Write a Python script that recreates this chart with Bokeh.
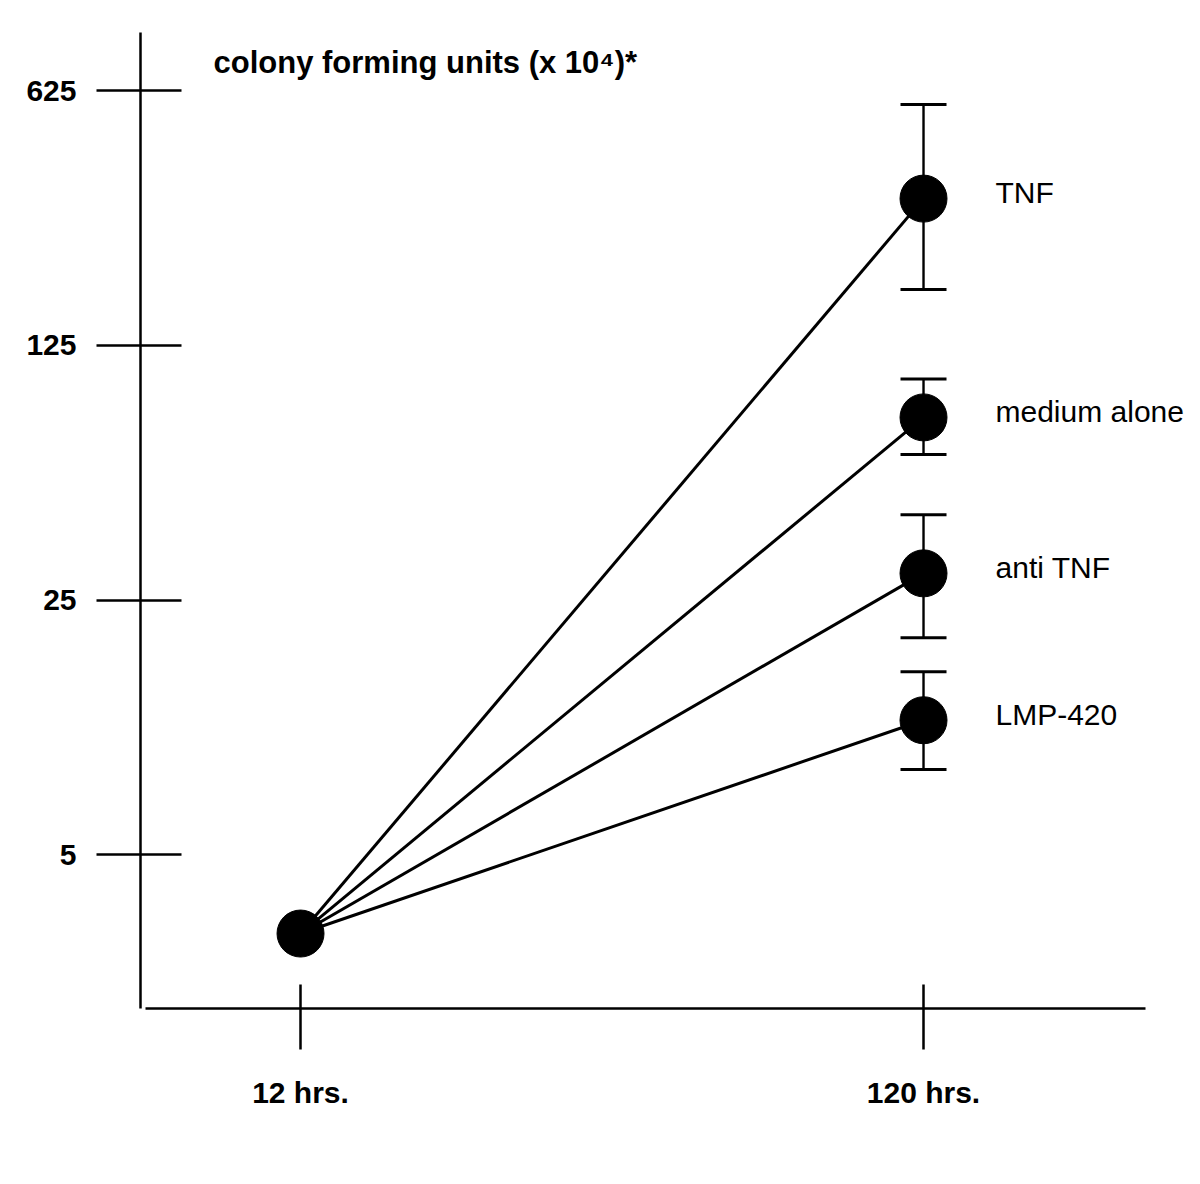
from bokeh.plotting import figure
from bokeh.models import ColumnDataSource, Range1d, FixedTicker, Whisker, TeeHead, Label
from bokeh.embed import file_html
from bokeh.resources import INLINE
from bokeh.core.properties import value

# ---- data ----
times = [12, 120]
time_labels = ["12 hrs.", "120 hrs."]
start_cfu = 3.04
groups = ["TNF", "medium alone", "anti TNF", "LMP-420"]
cfu_120 = [316, 79.3, 29.6, 11.7]
err_upper = [573, 101, 42.9, 15.9]
err_lower = [178, 62.7, 19.7, 8.57]
y_ticks = [5, 25, 125, 625]
y_title = "colony forming units (x 10\u2074)*"

FONT = "Liberation Sans"

p = figure(width=1192, height=1168, output_backend="svg", toolbar_location=None,
           y_axis_type="log",
           x_range=Range1d(-15.74, 166.63), y_range=Range1d(1.893, 902.7),
           min_border_left=140, min_border_right=0, min_border_top=32, min_border_bottom=160)
p.outline_line_color = None
p.grid.visible = False
p.background_fill_color = "white"
p.border_fill_color = "white"

# lines from start point to each 120 h value
xs = [[times[0], times[1]] for _ in groups]
ys = [[start_cfu, v] for v in cfu_120]
p.multi_line(xs=xs, ys=ys, line_color="black", line_width=3)

# error bars
err_src = ColumnDataSource(dict(x=[times[1]] * len(groups), upper=err_upper, lower=err_lower))
w = Whisker(base="x", upper="upper", lower="lower", source=err_src, dimension="height",
            line_color="black", line_width=2.4,
            upper_head=TeeHead(size=46, line_width=3, line_color="black"),
            lower_head=TeeHead(size=46, line_width=3, line_color="black"))
p.add_layout(w)

# points
pt_src = ColumnDataSource(dict(x=[times[0]] + [times[1]] * len(groups), y=[start_cfu] + cfu_120))
p.scatter("x", "y", source=pt_src, size=47, fill_color="black", line_color="black")

# group labels
lab_src = ColumnDataSource(dict(x=[times[1]] * len(groups), y=cfu_120, t=groups))
p.text("x", "y", text="t", source=lab_src, x_offset=72, y_offset=-6,
       text_font=value(FONT), text_font_size="30px", text_baseline="middle",
       text_align="left", text_color="black")

# y title
p.add_layout(Label(x=-3.08, y=746.7, text=y_title, text_font=FONT, text_font_size="31px",
                   text_font_style="bold", text_baseline="alphabetic", text_color="black"))

# axes
ya = p.yaxis[0]
ya.ticker = FixedTicker(ticks=y_ticks)
ya.major_label_overrides = {t: str(t) for t in y_ticks}
ya.minor_tick_line_color = None
ya.axis_line_width = 2.5
ya.major_tick_line_width = 2.5
ya.major_tick_in = 41
ya.major_tick_out = 44
ya.major_label_standoff = 20
ya.major_label_text_font = FONT
ya.major_label_text_font_size = "30px"
ya.major_label_text_font_style = "bold"
ya.major_label_text_color = "black"

xa = p.xaxis[0]
xa.ticker = FixedTicker(ticks=times)
xa.major_label_overrides = {t: l for t, l in zip(times, time_labels)}
xa.minor_tick_line_color = None
xa.bounds = (-14.87, 158.49)
xa.axis_line_width = 2.5
xa.major_tick_line_width = 2.5
xa.major_tick_in = 24
xa.major_tick_out = 41
xa.major_label_standoff = 26
xa.major_label_text_font = FONT
xa.major_label_text_font_size = "30px"
xa.major_label_text_font_style = "bold"
xa.major_label_text_color = "black"

open("out.html", "w").write(file_html(p, INLINE))
